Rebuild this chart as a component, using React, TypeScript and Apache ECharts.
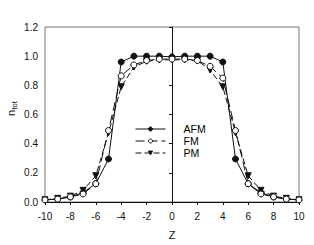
import React, { useEffect, useRef } from "react";
import * as echarts from "echarts";

const zValues = [-10, -9, -8, -7, -6, -5, -4, -3, -2, -1, 0, 1, 2, 3, 4, 5, 6, 7, 8, 9, 10];
const afm = [0.015, 0.02, 0.035, 0.065, 0.125, 0.295, 0.96, 1.0, 1.0, 1.0, 0.995, 1.0, 1.0, 1.0, 0.96, 0.295, 0.125, 0.065, 0.035, 0.02, 0.015];
const fm = [0.015, 0.02, 0.035, 0.055, 0.125, 0.49, 0.865, 0.94, 0.97, 0.98, 0.98, 0.98, 0.97, 0.93, 0.85, 0.49, 0.125, 0.055, 0.035, 0.02, 0.015];
const pm = [0.015, 0.025, 0.04, 0.08, 0.18, 0.475, 0.79, 0.925, 0.965, 0.975, 0.975, 0.975, 0.97, 0.905, 0.79, 0.475, 0.18, 0.08, 0.04, 0.025, 0.015];
const seriesNames = ["AFM", "FM", "PM"];

const font = "'Liberation Sans', Arial, sans-serif";

export default function App() {
  const ref = useRef<HTMLDivElement>(null);
  useEffect(() => {
    if (!ref.current) return;
    const chart = echarts.init(ref.current, undefined, { renderer: "svg" });
    const pair = (arr: number[]) => zValues.map((z, i) => [z, arr[i]]);
    const lineColor = "#111";
    chart.setOption({
      animation: false,
      backgroundColor: "#fff",
      textStyle: { fontFamily: font },
      grid: {
        left: 45,
        top: 27,
        right: 15,
        bottom: 41,
        show: true,
        borderColor: "#777",
        borderWidth: 1,
      },
      legend: {
        orient: "vertical",
        left: 135,
        top: 123,
        padding: 0,
        itemWidth: 30,
        itemHeight: 5,
        itemGap: 0,
        lineStyle: { width: 1 },
        itemStyle: { borderWidth: 1 },
        textStyle: { fontFamily: font, fontSize: 10.5, lineHeight: 12, color: "#000", padding: [0, 0, 0, 13] },
        data: seriesNames.map((n) => ({ name: n, textStyle: { color: "#000" } })),
      },
      xAxis: {
        type: "value",
        min: -10,
        max: 10,
        interval: 2,
        axisLine: { lineStyle: { color: "#111", width: 1 } },
        axisTick: { show: true, inside: false, length: 3, lineStyle: { color: "#111" } },
        axisLabel: { color: "#111", fontSize: 10, fontFamily: font, margin: 9 },
        splitLine: { show: false },
        name: "Z",
        nameLocation: "middle",
        nameGap: 27,
        nameTextStyle: { color: "#111", fontSize: 11, fontFamily: font },
      },
      yAxis: {
        type: "value",
        min: 0,
        max: 1.2,
        interval: 0.2,
        axisLine: { show: true, lineStyle: { color: "#111", width: 1 } },
        axisTick: { show: true, inside: false, length: 3, lineStyle: { color: "#111" } },
        axisLabel: {
          color: "#111",
          fontSize: 10,
          fontFamily: font,
          margin: 7,
          formatter: (v: number) => v.toFixed(1),
        },
        splitLine: { show: false },
      },
      graphic: [
        {
          type: "group",
          x: 16,
          y: 116,
          rotation: Math.PI / 2,
          children: [
            {
              type: "text",
              x: 0,
              y: 0,
              style: { text: "n", fontSize: 11, fontFamily: font, fill: "#111", textVerticalAlign: "bottom" },
            },
            {
              type: "text",
              x: 6.5,
              y: 2.5,
              style: { text: "tot", fontSize: 7.5, fontFamily: font, fill: "#111", textVerticalAlign: "bottom" },
            },
          ],
        },
      ],
      series: [
        {
          name: "AFM",
          type: "line",
          data: pair(afm),
          symbol: "circle",
          symbolSize: 6,
          itemStyle: { color: lineColor, borderColor: lineColor, borderWidth: 1 },
          lineStyle: { color: lineColor, width: 1, type: "solid" },
          z: 3,
        },
        {
          name: "FM",
          type: "line",
          data: pair(fm),
          symbol: "circle",
          symbolSize: 6,
          itemStyle: { color: "#fff", borderColor: lineColor, borderWidth: 1 },
          lineStyle: { color: lineColor, width: 1, type: [9, 4] },
          z: 4,
        },
        {
          name: "PM",
          type: "line",
          data: pair(pm),
          symbol: "triangle",
          symbolRotate: 180,
          symbolSize: 6,
          itemStyle: { color: lineColor, borderColor: lineColor, borderWidth: 1 },
          lineStyle: { color: lineColor, width: 1, type: [6, 3] },
          z: 2,
        },
      ],
    });
    return () => chart.dispose();
  }, []);
  return <div ref={ref} style={{ position: "fixed", left: 0, top: 0, width: 314, height: 245 }} />;
}
